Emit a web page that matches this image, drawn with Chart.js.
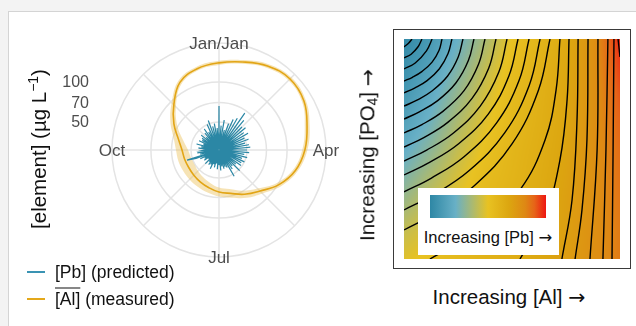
<!DOCTYPE html>
<html>
<head>
<meta charset="utf-8">
<script src="https://cdn.jsdelivr.net/npm/chart.js@4/dist/chart.umd.min.js"></script>
<style>
  html, body { margin:0; padding:0; width:636px; height:326px; overflow:hidden; background:#f3f3f3;
    font-family:"Liberation Sans", Arial, Helvetica, sans-serif; }
  #panel { position:absolute; left:8px; top:11px; width:640px; height:330px; background:#fff;
    border-left:1px solid #d4d4d4; border-top:1px solid #d4d4d4; }
  canvas { position:absolute; }
  #polar { left:0; top:0; }
  #heat { left:394px; top:30px; }
  .title { position:absolute; white-space:nowrap; color:#111; font-size:20.5px; line-height:1; }
  .rot { transform:translate(-50%,-50%) rotate(-90deg); }
  .ctr { transform:translate(-50%,-50%); }
  .arr { font-family:"DejaVu Sans", sans-serif; font-weight:normal; }
  #frame { position:absolute; left:393px; top:29px; width:238px; height:240px; box-sizing:border-box;
    border:1px solid #3a3a3a; background:#fff; }
  #cbox { position:absolute; left:418px; top:188px; width:141px; height:67px; background:#fff; }
  #cbar { position:absolute; left:430px; top:195px; width:116px; height:23px; }
  #clabel { position:absolute; left:488px; top:237px; font-size:16.5px; color:#111; white-space:nowrap; transform:translate(-50%,-50%); }
  .leg { position:absolute; left:55px; font-size:17.5px; color:#111; white-space:nowrap; transform:translateY(-50%); }
  .sw { position:absolute; left:27px; width:18px; height:1.6px; }
  sup { font-size:0.68em; vertical-align:0.55em; }
  sub { font-size:0.68em; vertical-align:-0.25em; }
</style>
</head>
<body>
<div id="panel"></div>
<div id="frame"></div>
<canvas id="polar" width="360" height="326"></canvas>
<canvas id="heat" width="236" height="238"></canvas>

<div class="title rot" style="left:38px; top:149px;">[element] (µg L<sup>−1</sup>)</div>
<div class="title rot" style="left:369px; top:155px;">Increasing [PO<sub>4</sub>] <span class="arr">→</span></div>
<div class="title ctr" style="left:509px; top:297px;">Increasing [Al] <span class="arr">→</span></div>

<div class="sw" style="top:271px; background:#3a93b3;"></div>
<div class="leg" style="top:272px;">[Pb] (predicted)</div>
<div class="sw" style="top:298px; background:#e4a81a;"></div>
<div class="leg" style="top:299px;"><span style="text-decoration:overline;">[Al]</span> (measured)</div>

<div id="cbox"></div>
<div id="cbar"></div>
<div id="clabel">Increasing [Pb] <span class="arr">→</span></div>

<script>
// ---------- Seasonal (polar) panel ----------
// 144 slots around the year, 2.5 degrees each, starting at January (top), clockwise.
const SLOTS = 144;
const seasonNames = ['Jan/Jan', 'Apr', 'Jul', 'Oct'];
const seasonSlots = [0, 36, 72, 108];
const radialTickValues = [50, 70, 100];     // µg/L, log-spaced radius
const radialMin = 30.8;
const radialMax = 196;

// predicted Pb, µg/L, one value per slot
const pbPredicted = [
  66, 32, 47, 33, 52, 31, 44, 34, 50,
  32, 55, 33, 58, 31, 67, 33, 60, 32,
  54, 33, 56, 31, 52, 34, 55, 32, 50, 33, 53, 31, 49, 33,
  52, 32, 53, 34, 50, 31, 52, 33, 48, 32, 51, 34,
  47, 32, 50, 33, 48, 31, 49, 34, 45, 32, 51, 33, 44, 31, 46, 33, 52, 32, 43, 34,
  42, 32, 43, 33, 41, 31, 44, 34, 40, 32, 43, 33, 39, 31, 42, 34,
  40, 32, 44, 33, 41, 31, 42, 34, 40, 32, 43, 33, 39, 31, 42, 34,
  41, 32, 44, 33, 47, 55, 31, 43, 33, 45, 32, 42,
  40, 33, 44, 31, 42, 34, 46, 32, 41, 33, 45, 31, 43, 34, 44, 32, 46, 33, 42, 31,
  45, 33, 48, 32, 44, 34, 50, 31, 53, 33, 47, 32, 49, 34, 45, 33
];

// measured Al (smoothed), µg/L, every 6th slot (15 degrees), with its band
const AL_STEP = 6;
const alMeasured = [139, 149, 165, 175, 168, 149, 136, 121, 102, 84, 74.5, 67,
                    63.7, 60.5, 58.4, 57, 56.4, 57, 58.4, 63.7, 75.8, 93, 119, 132];
const alUpper    = [144, 154, 171, 181, 174, 156, 142, 126, 107, 89, 80, 72.4,
                    68.9, 66, 64.2, 63.3, 63.1, 63.8, 64.8, 69.4, 81.3, 97.9, 124, 137];
const alLower    = [134, 144, 159, 169, 162, 143, 130, 116, 97, 79, 69.5, 62,
                    58.9, 55.5, 53.1, 51.4, 50.4, 50.9, 52.6, 58.4, 70.7, 88.3, 114, 128];

const toR = v => Math.log10(v);
const slotLabels = Array.from({length: SLOTS}, (_, i) => String(i));
const spread = arr => Array.from({length: SLOTS}, (_, i) => i % AL_STEP === 0 ? toR(arr[i / AL_STEP]) : null);

const polarText = {
  id: 'polarText',
  afterDraw(chart) {
    const s = chart.scales.r, ctx = chart.ctx;
    ctx.save();
    ctx.fillStyle = '#4d4d4d';
    ctx.font = '17px "Liberation Sans", Arial, sans-serif';
    ctx.textAlign = 'center';
    ctx.textBaseline = 'middle';
    seasonSlots.forEach((slot, k) => {
      const p = s.getPointPosition(slot, s.drawingArea);
      ctx.fillText(seasonNames[k], p.x, p.y + 1);
    });
    ctx.font = '16px "Liberation Sans", Arial, sans-serif';
    ctx.textAlign = 'right';
    radialTickValues.forEach(v => {
      const y = s.yCenter - s.getDistanceFromCenterForValue(toR(v));
      ctx.fillText(String(v), s.xCenter - 130, y + 1);
    });
    ctx.restore();
  }
};

new Chart(document.getElementById('polar'), {
  type: 'radar',
  data: {
    labels: slotLabels,
    datasets: [
      { data: pbPredicted.map(toR), borderColor: '#2b87a5', borderWidth: 1.2, tension: 0, fill: false, order: 0 },
      { data: spread(alMeasured), borderColor: '#e2a515', borderWidth: 1.6, tension: 0.4, spanGaps: true, fill: false, order: 1 },
      { data: spread(alUpper), borderWidth: 0, borderColor: 'rgba(0,0,0,0)', tension: 0.4, spanGaps: true, fill: false, order: 3 },
      { data: spread(alLower), borderWidth: 0, borderColor: 'rgba(0,0,0,0)', tension: 0.4, spanGaps: true,
        fill: 2, backgroundColor: 'rgba(236,192,90,0.45)', order: 2 }
    ]
  },
  options: {
    responsive: false,
    animation: false,
    devicePixelRatio: 1,
    layout: { padding: { left: 112, top: 43, right: 34, bottom: 69 } },
    elements: { point: { radius: 0, hitRadius: 0 } },
    plugins: { legend: { display: false }, tooltip: { enabled: false } },
    scales: {
      r: {
        min: toR(radialMin),
        max: toR(radialMax),
        startAngle: 0,
        afterBuildTicks: sc => { sc.ticks = [radialMin, ...radialTickValues, radialMax].map(v => ({ value: toR(v) })); },
        ticks: { display: false },
        pointLabels: { display: false },
        grid: { circular: true, color: '#e4e4e4', lineWidth: 1.5 },
        angleLines: { color: '#e4e4e4', lineWidth: c => (c.index % 18 === 0 ? 1.5 : 0) }
      }
    }
  },
  plugins: [polarText]
});

// ---------- Conceptual Al / PO4 surface ----------
// colour position (0 = low Pb, 1 = high Pb) on a 9 x 9 grid, rows from PO4 = 1 (top) to 0
const gridAl = [0, 0.125, 0.25, 0.375, 0.5, 0.625, 0.75, 0.875, 1];
const gridPO4 = [1, 0.875, 0.75, 0.625, 0.5, 0.375, 0.25, 0.125, 0];
const pbLevel = [
  [0.02, 0.10, 0.22, 0.36, 0.50, 0.58, 0.66, 0.78, 0.98],
  [0.05, 0.14, 0.27, 0.41, 0.53, 0.60, 0.67, 0.78, 0.95],
  [0.09, 0.19, 0.32, 0.45, 0.55, 0.61, 0.68, 0.78, 0.92],
  [0.14, 0.24, 0.37, 0.48, 0.56, 0.62, 0.68, 0.78, 0.90],
  [0.20, 0.30, 0.42, 0.51, 0.58, 0.63, 0.69, 0.78, 0.88],
  [0.27, 0.37, 0.46, 0.54, 0.59, 0.64, 0.70, 0.78, 0.87],
  [0.34, 0.43, 0.50, 0.56, 0.61, 0.65, 0.71, 0.78, 0.86],
  [0.42, 0.48, 0.53, 0.58, 0.62, 0.66, 0.71, 0.78, 0.85],
  [0.48, 0.52, 0.56, 0.60, 0.63, 0.67, 0.72, 0.78, 0.85]
];

// iso-Pb lines, [Al, PO4] points (both axes 0..1)
const isoLines = [
  [[0.037,1],[0.022,0.982],[0,0.964]],
  [[0.083,1],[0.066,0.966],[0.033,0.931],[0,0.914]],
  [[0.130,1],[0.104,0.946],[0.052,0.891],[0,0.864]],
  [[0.176,1],[0.162,0.948],[0.130,0.895],[0.084,0.853],[0.039,0.826],[0,0.809]],
  [[0.222,1],[0.204,0.934],[0.164,0.865],[0.107,0.811],[0.049,0.777],[0,0.755]],
  [[0.273,1],[0.251,0.918],[0.202,0.832],[0.131,0.765],[0.060,0.722],[0,0.695]],
  [[0.324,1],[0.298,0.902],[0.240,0.800],[0.156,0.720],[0.071,0.669],[0,0.636]],
  [[0.375,1],[0.345,0.885],[0.278,0.765],[0.180,0.671],[0.083,0.611],[0,0.573]],
  [[0.426,1],[0.392,0.867],[0.315,0.730],[0.204,0.622],[0.094,0.553],[0,0.509]],
  [[0.477,1],[0.439,0.850],[0.353,0.695],[0.229,0.573],[0.105,0.495],[0,0.445]],
  [[0.528,1],[0.486,0.833],[0.391,0.660],[0.253,0.524],[0.116,0.438],[0,0.382]],
  [[0.579,1],[0.533,0.812],[0.428,0.618],[0.278,0.465],[0.127,0.368],[0,0.305]],
  [[0.630,1],[0.580,0.790],[0.466,0.573],[0.302,0.402],[0.139,0.293],[0,0.223]],
  [[0.676,1],[0.622,0.766],[0.500,0.523],[0.324,0.332],[0.149,0.210],[0,0.132]],
  [[0.722,1],[0.704,0.768],[0.653,0.541],[0.537,0.314],[0.352,0.132],[0.120,0]],
  [[0.764,1],[0.755,0.723],[0.722,0.450],[0.653,0.200],[0.537,0]],
  [[0.806,1],[0.801,0.632],[0.778,0.268],[0.731,0]],
  [[0.852,1],[0.847,0.541],[0.824,0.223],[0.792,0]],
  [[0.898,1],[0.894,0.495],[0.861,0]],
  [[0.944,1],[0.935,0.495],[0.921,0]],
  [[0.972,1],[0.968,0.495],[0.963,0]],
  [[0.991,1],[1,0.918]]
];

const pbColours = [
  [0.00, [46, 135, 165]],
  [0.22, [104, 176, 198]],
  [0.50, [232, 194, 34]],
  [0.68, [220, 166, 16]],
  [0.82, [222, 136, 20]],
  [0.90, [230, 100, 24]],
  [1.00, [238, 22, 18]]
];
function pbColour(t) {
  t = Math.max(0, Math.min(1, t));
  for (let i = 1; i < pbColours.length; i++) {
    const [t1, c1] = pbColours[i];
    const [t0, c0] = pbColours[i - 1];
    if (t <= t1) {
      const f = (t - t0) / (t1 - t0);
      return c0.map((c, k) => Math.round(c + (c1[k] - c) * f));
    }
  }
  return pbColours[pbColours.length - 1][1];
}
document.getElementById('cbar').style.background =
  'linear-gradient(to right,' + pbColours.map(([t, c]) => `rgb(${c.join(',')}) ${t * 100}%`).join(',') + ')';

function levelAt(al, po4) {
  const n = gridAl.length - 1;
  const fx = Math.max(0, Math.min(n - 1e-9, al * n));
  const fy = Math.max(0, Math.min(n - 1e-9, (1 - po4) * n));
  const i = Math.floor(fx), j = Math.floor(fy);
  const dx = fx - i, dy = fy - j;
  const a = pbLevel[j][i], b = pbLevel[j][i + 1], c = pbLevel[j + 1][i], d = pbLevel[j + 1][i + 1];
  return a * (1 - dx) * (1 - dy) + b * dx * (1 - dy) + c * (1 - dx) * dy + d * dx * dy;
}

const surfacePlugin = {
  id: 'surface',
  beforeDatasetsDraw(chart) {
    const {ctx, chartArea: a, scales: {x, y}} = chart;
    const w = Math.round(a.right - a.left), h = Math.round(a.bottom - a.top);
    const off = document.createElement('canvas');
    off.width = w; off.height = h;
    const octx = off.getContext('2d');
    const img = octx.createImageData(w, h);
    for (let py = 0; py < h; py++) {
      const po4 = y.getValueForPixel(a.top + py + 0.5);
      for (let px = 0; px < w; px++) {
        const al = x.getValueForPixel(a.left + px + 0.5);
        const c = pbColour(levelAt(al, po4));
        const o = (py * w + px) * 4;
        img.data[o] = c[0]; img.data[o + 1] = c[1]; img.data[o + 2] = c[2]; img.data[o + 3] = 255;
      }
    }
    octx.putImageData(img, 0, 0);
    ctx.drawImage(off, a.left, a.top);
  }
};

new Chart(document.getElementById('heat'), {
  type: 'scatter',
  data: {
    datasets: isoLines.map(line => ({
      data: line.map(([al, po4]) => ({ x: al, y: po4 })),
      showLine: true, borderColor: '#000', borderWidth: 1.4, pointRadius: 0, tension: 0.4, fill: false
    }))
  },
  options: {
    responsive: false,
    animation: false,
    devicePixelRatio: 1,
    layout: { padding: { left: 10, top: 9, right: 10, bottom: 9 } },
    plugins: { legend: { display: false }, tooltip: { enabled: false } },
    scales: {
      x: { type: 'linear', min: 0, max: 1, display: false },
      y: { type: 'linear', min: 0, max: 1, display: false }
    }
  },
  plugins: [surfacePlugin]
});
</script>
</body>
</html>
